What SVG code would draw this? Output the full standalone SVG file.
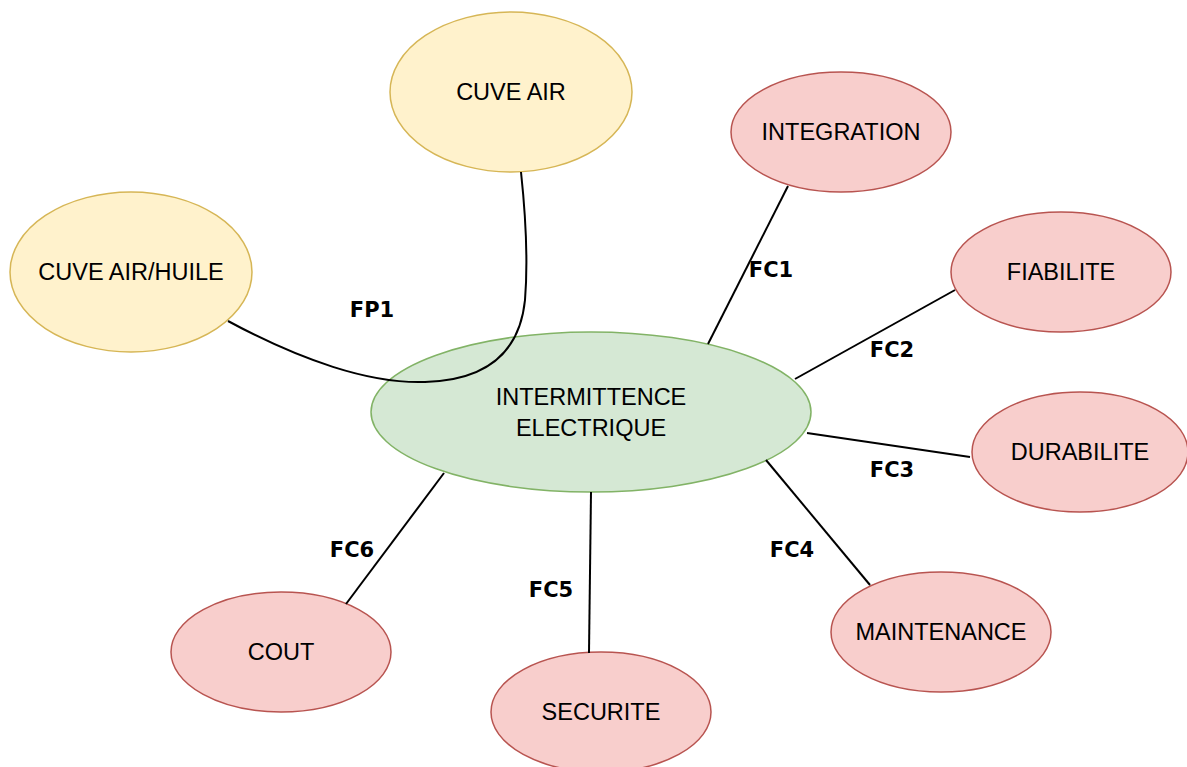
<svg xmlns="http://www.w3.org/2000/svg" width="1187" height="767" viewBox="0 0 1187 767">
<style>
.y{fill:#fff2cc;stroke:#d6b656;stroke-width:1.5}
.r{fill:#f8cecc;stroke:#b85450;stroke-width:1.5}
.g{fill:#d5e8d4;stroke:#82b366;stroke-width:1.5}
.t{font-family:"Liberation Sans",Arial,sans-serif;font-size:23.5px;fill:#000;text-anchor:middle;dominant-baseline:central}
.l{font-family:"DejaVu Sans",Verdana,sans-serif;font-size:21px;font-weight:bold;fill:#000;text-anchor:middle;dominant-baseline:central}
.c{fill:none;stroke:#000;stroke-width:2}
</style>
<rect width="1187" height="767" fill="#fff"/>
<g id="cuve-air"><ellipse class="y" cx="511" cy="92" rx="121" ry="80"/><text class="t" x="511" y="92">CUVE AIR</text></g>
<g id="cuve-air-huile"><ellipse class="y" cx="131" cy="272" rx="121" ry="80"/><text class="t" x="131" y="272">CUVE AIR/HUILE</text></g>
<g id="integration"><ellipse class="r" cx="841" cy="132" rx="110" ry="60"/><text class="t" x="841" y="132">INTEGRATION</text></g>
<g id="fiabilite"><ellipse class="r" cx="1061" cy="272" rx="110" ry="60"/><text class="t" x="1061" y="272">FIABILITE</text></g>
<g id="durabilite"><ellipse class="r" cx="1080" cy="452" rx="108" ry="60"/><text class="t" x="1080" y="452">DURABILITE</text></g>
<g id="maintenance"><ellipse class="r" cx="941" cy="632" rx="110" ry="60"/><text class="t" x="941" y="632">MAINTENANCE</text></g>
<g id="securite"><ellipse class="r" cx="601" cy="712" rx="110" ry="60"/><text class="t" x="601" y="712">SECURITE</text></g>
<g id="cout"><ellipse class="r" cx="281" cy="652" rx="110" ry="60"/><text class="t" x="281" y="652">COUT</text></g>
<g id="intermittence"><ellipse class="g" cx="591" cy="412" rx="220" ry="80"/><text class="t" x="591" y="397">INTERMITTENCE</text><text class="t" x="591" y="428">ELECTRIQUE</text></g>
<g id="connectors">
<path class="c" d="M228,321 C300,360 370,384 425,382 C490,380 520,350 525,300 C529,250 524,200 521,172"/>
<line class="c" x1="788" y1="186" x2="708" y2="344"/>
<line class="c" x1="955" y1="290" x2="795" y2="379"/>
<line class="c" x1="970" y1="457" x2="807" y2="433"/>
<line class="c" x1="870" y1="585" x2="766" y2="460"/>
<line class="c" x1="589" y1="653" x2="591" y2="492"/>
<line class="c" x1="346" y1="604" x2="444" y2="473"/>
<text class="l" x="372" y="310">FP1</text>
<text class="l" x="771" y="270">FC1</text>
<text class="l" x="892" y="350">FC2</text>
<text class="l" x="892" y="470">FC3</text>
<text class="l" x="792" y="550">FC4</text>
<text class="l" x="551" y="590">FC5</text>
<text class="l" x="352" y="550">FC6</text>
</g>
</svg>
